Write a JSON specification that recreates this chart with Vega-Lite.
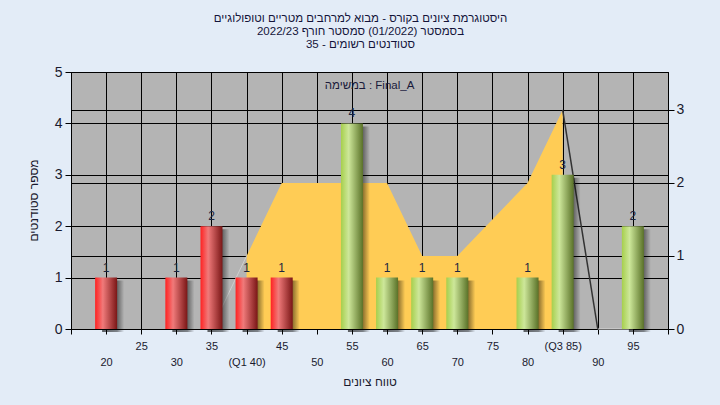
{
  "$schema": "https://vega.github.io/schema/vega-lite/v6.json",
  "width": 597,
  "height": 257,
  "autosize": {"type": "none"},
  "padding": {"left": 71, "top": 72, "right": 52, "bottom": 76},
  "background": "#e3ecf7",
  "title": {
    "text": ["היסטוגרמת ציונים בקורס - מבוא למרחבים מטריים וטופולוגיים", "בסמסטר  (01/2022)  סמסטר חורף 2022/23", "סטודנטים רשומים - 35"],
    "font": "Liberation Sans",
    "fontSize": 11.5,
    "fontWeight": "normal",
    "color": "#14143a",
    "anchor": "middle",
    "lineHeight": 13,
    "offset": 15,
    "dx": -9
  },
  "datasets": {
    "bars": [
      {"score": 20, "count": 1},
      {"score": 30, "count": 1},
      {"score": 35, "count": 2},
      {"score": 40, "count": 1},
      {"score": 45, "count": 1},
      {"score": 55, "count": 4},
      {"score": 60, "count": 1},
      {"score": 65, "count": 1},
      {"score": 70, "count": 1},
      {"score": 80, "count": 1},
      {"score": 85, "count": 3},
      {"score": 95, "count": 2}
    ],
    "curve": [
      {"score": 35, "v": 0},
      {"score": 40, "v": 1},
      {"score": 45, "v": 2},
      {"score": 50, "v": 2},
      {"score": 55, "v": 2},
      {"score": 60, "v": 2},
      {"score": 65, "v": 1},
      {"score": 70, "v": 1},
      {"score": 75, "v": 1.5},
      {"score": 80, "v": 2},
      {"score": 85, "v": 3},
      {"score": 90, "v": 0},
      {"score": 95, "v": 0}
    ],
    "note": [{"label": "במשימה : Final_A"}]
  },
  "config": {
    "view": {"fill": "#b4b4b4", "stroke": "#000000", "strokeWidth": 1},
    "axis": {
      "gridColor": "#000000",
      "gridOpacity": 1,
      "gridWidth": 1,
      "domainColor": "#000000",
      "tickColor": "#000000",
      "labelFont": "Liberation Sans",
      "titleFont": "Liberation Sans",
      "labelColor": "#1a1a2e",
      "titleColor": "#1a1a2e",
      "titleFontWeight": "normal"
    }
  },
  "encoding": {
    "x": {
      "field": "score",
      "type": "quantitative",
      "scale": {"domain": [15, 100], "nice": false, "zero": false, "padding": 0},
      "axis": {
        "values": [15, 20, 25, 30, 35, 40, 45, 50, 55, 60, 65, 70, 75, 80, 85, 90, 95, 100],
        "labelExpr": "datum.value == 15 || datum.value == 100 ? '' : datum.value == 40 ? ['', '(Q1 40)'] : datum.value == 85 ? ['(Q3 85)'] : datum.value % 10 == 0 ? ['', datum.label] : [datum.label]",
        "labelFontSize": 11,
        "labelLineHeight": 16,
        "labelPadding": 6,
        "labelFlush": false,
        "labelOverlap": false,
        "tickSize": 5,
        "grid": true,
        "title": "טווח ציונים",
        "titleFontSize": 12,
        "titleBaseline": "middle",
        "titleY": 52
      }
    }
  },
  "layer": [
    {
      "data": {"name": "curve"},
      "encoding": {
        "y": {
          "field": "v",
          "type": "quantitative",
          "scale": {"domain": [0, 3.52], "nice": false},
          "axis": {
            "orient": "right",
            "values": [0, 1, 2, 3],
            "labelFontSize": 14,
            "labelPadding": 2,
            "tickSize": 6,
            "grid": true,
            "title": null
          }
        }
      },
      "layer": [
        {
          "transform": [{"filter": "datum.score >= 40 && datum.score <= 85"}],
          "mark": {"type": "area", "color": "#FFCC55", "opacity": 1}
        },
        {
          "transform": [{"filter": "datum.score <= 40"}],
          "mark": {"type": "line", "color": "#cfcfcf", "strokeWidth": 1}
        },
        {
          "transform": [{"filter": "datum.score >= 85 && datum.score <= 90"}],
          "mark": {"type": "line", "color": "#333333", "strokeWidth": 1.5}
        },
        {
          "transform": [{"filter": "datum.score >= 90"}],
          "mark": {"type": "line", "color": "#d8d8d8", "strokeWidth": 1}
        }
      ]
    },
    {
      "layer": [
        {
          "data": {"name": "bars"},
          "encoding": {
            "y": {
              "field": "count",
              "type": "quantitative",
              "scale": {"domain": [0, 5], "nice": false},
              "axis": {
                "orient": "left",
                "values": [0, 1, 2, 3, 4, 5],
                "labelFontSize": 14,
                "labelPadding": 3,
                "tickSize": 6,
                "grid": true,
                "title": "מספר סטודנטים",
                "titleFontSize": 12,
                "titleX": -38,
                "titleY": 128,
                "titleAlign": "center",
                "titleBaseline": "middle"
              }
            }
          },
          "layer": [
            {
              "mark": {
                "type": "bar",
                "width": 22,
                "xOffset": 7,
                "yOffset": 3,
                "color": {
                  "gradient": "linear", "x1": 0, "x2": 1, "y1": 0, "y2": 0,
                  "stops": [
                    {"offset": 0, "color": "rgba(0,0,0,0.6)"},
                    {"offset": 0.68, "color": "rgba(0,0,0,0.45)"},
                    {"offset": 1, "color": "rgba(0,0,0,0)"}
                  ]
                }
              }
            },
            {
              "transform": [{"filter": "datum.score <= 45"}],
              "mark": {
                "type": "bar",
                "width": 22,
                "color": {
                  "gradient": "linear", "x1": 0, "x2": 1, "y1": 0, "y2": 0,
                  "stops": [
                    {"offset": 0, "color": "#ff2222"},
                    {"offset": 0.35, "color": "#f07a7a"},
                    {"offset": 1, "color": "#7a1616"}
                  ]
                }
              }
            },
            {
              "transform": [{"filter": "datum.score > 45"}],
              "mark": {
                "type": "bar",
                "width": 22,
                "color": {
                  "gradient": "linear", "x1": 0, "x2": 1, "y1": 0, "y2": 0,
                  "stops": [
                    {"offset": 0, "color": "#a6cf4c"},
                    {"offset": 0.35, "color": "#cde79a"},
                    {"offset": 1, "color": "#5a7228"}
                  ]
                }
              }
            },
            {
              "mark": {"type": "text", "baseline": "bottom", "dy": -3, "fontSize": 12, "font": "Liberation Sans", "color": "#1a2540"},
              "encoding": {
                "text": {"field": "count", "type": "quantitative"}
              }
            }
          ]
        },
        {
          "data": {"name": "note"},
          "mark": {"type": "text", "align": "center", "baseline": "middle", "fontSize": 11.5, "font": "Liberation Sans", "color": "#1a1a3a"},
          "encoding": {
            "x": null,
            "y": {"datum": 4.73, "type": "quantitative"},
            "text": {"field": "label", "type": "nominal"}
          }
        }
      ]
    }
  ],
  "resolve": {"scale": {"y": "independent"}}
}
